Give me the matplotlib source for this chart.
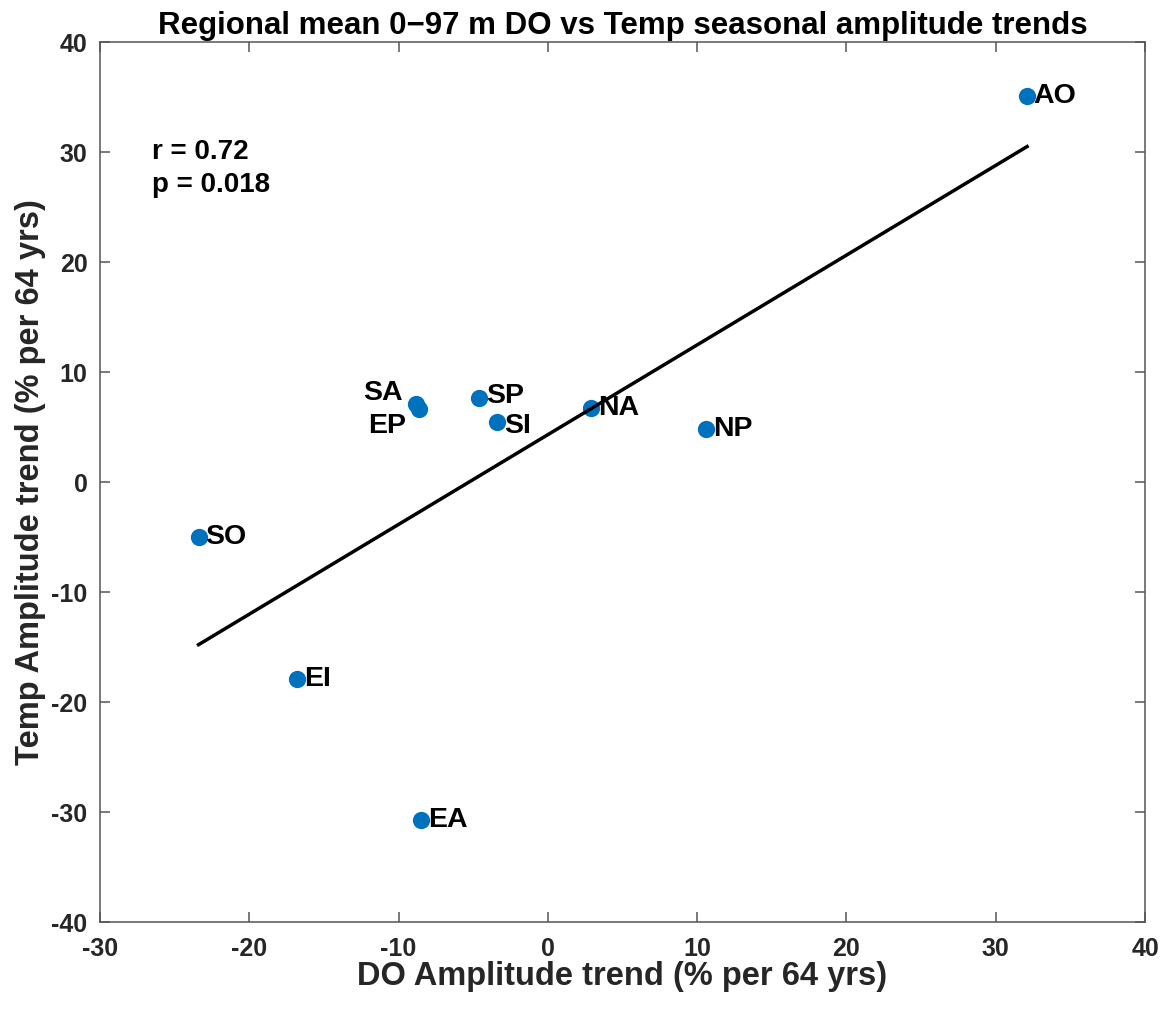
import numpy as np
import matplotlib.pyplot as plt

plt.rcParams.update({
    "font.family": ["Liberation Sans", "DejaVu Sans"],
    "font.weight": "bold",
    "axes.labelweight": "bold",
    "axes.titleweight": "bold",
    "axes.unicode_minus": False,
})

regions = ["AO", "SO", "EI", "EA", "SA", "EP", "SP", "SI", "NA", "NP"]
do_trend = [32.1, -23.4, -16.8, -8.5, -8.8, -8.6, -4.6, -3.4, 2.9, 10.6]
temp_trend = [35.1, -5.0, -17.9, -30.7, 7.1, 6.6, 7.6, 5.5, 6.7, 4.8]
r_text = "r = 0.72"
p_text = "p = 0.018"

x = np.array(do_trend)
y = np.array(temp_trend)

fig = plt.figure(figsize=(11.71, 10.10), dpi=100)
ax = fig.add_axes([0.0854, 0.0871, 0.8924, 0.8713])

ax.scatter(x, y, s=155, color="#0072BD", linewidths=0, zorder=2)

slope, icpt = np.polyfit(x, y, 1)
xl = np.array([x.min(), x.max()])
ax.plot(xl, slope * xl + icpt, color="black", linewidth=2.5, zorder=3)

# label placement (SA / EP go to the left)
for i in range(len(regions)):
    if regions[i] in ("SA", "EP"):
        dx, ha = -0.9, "right"
    else:
        dx, ha = 0.45, "left"
    dy = 0
    if regions[i] == "SA":
        dy = 1.0
    if regions[i] == "EP":
        dy = -1.5
    if regions[i] == "SP":
        dy = 0.2
    if regions[i] == "SI":
        dy = -0.4
    ax.text(x[i] + dx, y[i] + dy, regions[i], fontsize=20.5, fontweight="bold",
            ha=ha, va="center", zorder=4)

ax.text(-26.5, 30, r_text, fontsize=20, fontweight="bold", va="center")
ax.text(-26.5, 27, p_text, fontsize=20, fontweight="bold", va="center")

ax.set_xlim(-30, 40)
ax.set_ylim(-40, 40)
ax.set_xticks(np.arange(-30, 41, 10))
ax.set_yticks(np.arange(-40, 41, 10))
ax.tick_params(direction="in", top=True, right=True, labelsize=18, length=7.5,
               width=1.1, colors="#555555", labelcolor="#262626")
ax.tick_params(axis="x", pad=11)
ax.tick_params(axis="y", pad=9)
for sp in ax.spines.values():
    sp.set_color("#555555")
    sp.set_linewidth(1.1)

ax.set_xlabel("DO Amplitude trend (% per 64 yrs)", fontsize=23.5, color="#262626",
              labelpad=0)
ax.set_ylabel("Temp Amplitude trend (% per 64 yrs)", fontsize=23.5, color="#262626",
              labelpad=4)
ax.set_title("Regional mean 0\u221297 m DO vs Temp seasonal amplitude trends",
             fontsize=22.5, pad=6)

fig.savefig("out.png", dpi=100)
